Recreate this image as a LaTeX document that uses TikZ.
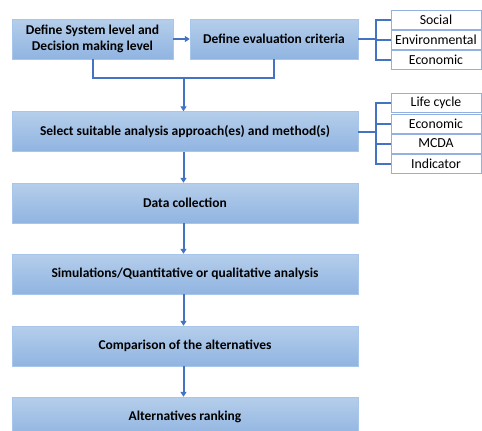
\documentclass[tikz,border=0pt]{standalone}
\usepackage{fontspec}
\setmainfont{Carlito}
\usetikzlibrary{arrows.meta}

\definecolor{linkblue}{HTML}{4472C4}
\definecolor{boxtop}{HTML}{B5CEEB}
\definecolor{boxbottom}{HTML}{90B4E1}
\definecolor{boxedge}{HTML}{A8C6EA}
\definecolor{itemedge}{HTML}{92B0E0}

\tikzset{
    stepbox/.style={rectangle, draw=boxedge, top color=boxtop, bottom color=boxbottom,
        minimum height=40, inner sep=2, align=center, font=\fontsize{13.5}{16}\selectfont\bfseries},
    widebox/.style={stepbox, minimum width=346},
    itembox/.style={rectangle, draw=itemedge, fill=white, minimum width=90, minimum height=19,
        inner sep=1, font=\fontsize{13.8}{14}\selectfont},
    link/.style={draw=linkblue, line width=2},
    flow/.style={link, -{Triangle[length=5,width=6]}},
}

\begin{document}
\begin{tikzpicture}[x=1pt, y=-1pt]
        \useasboundingbox (0, 0) rectangle (482, 431);

        % top row
        \node[stepbox, minimum width=161] (system) at (92.5, 39) {Define System level and\\Decision making level};
        \node[stepbox, minimum width=168] (criteria) at (274, 39) {Define evaluation criteria};

        % criteria list
        \node[itembox] (social) at (436, 19.5) {Social};
        \node[itembox] (environ) at (436, 39.5) {Environmental};
        \node[itembox] (econcrit) at (436, 59.5) {Economic};

        % main column
        \node[widebox] (select) at (185, 131.5) {Select suitable analysis approach(es) and method(s)};
        \node[widebox] (data) at (185, 203) {Data collection};
        \node[widebox] (simul) at (185, 274) {Simulations/Quantitative or qualitative analysis};
        \node[widebox] (compare) at (185, 346) {Comparison of the alternatives};
        \node[widebox] (ranking) at (185, 417) {Alternatives ranking};

        % method list
        \node[itembox] (lifecycle) at (436, 103) {Life cycle};
        \node[itembox] (econmeth) at (436, 123.5) {Economic};
        \node[itembox] (mcda) at (436, 143.5) {MCDA};
        \node[itembox] (indicator) at (436, 164) {Indicator};

        \coordinate (critjoin) at (376, 39);
        \coordinate (methjoin) at (376, 131.5);
        \coordinate (merge) at (183.5, 78);

        \draw[flow] (system) -- (criteria);

        \draw[link] (criteria.east) -- (critjoin);
        \draw[link] (social.west) -| (critjoin) |- (econcrit.west);
        \draw[link] (environ.west) -- (environ.west -| critjoin);

        \draw[link] (system.south) |- (merge) -| (criteria.south);
        \draw[flow] (merge) -- (merge |- select.north);

        \draw[link] (select.east) -- (methjoin);
        \draw[link] (lifecycle.west) -| (methjoin) |- (indicator.west);
        \draw[link] (econmeth.west) -- (econmeth.west -| methjoin);
        \draw[link] (mcda.west) -- (mcda.west -| methjoin);

        \draw[flow] (select.south -| merge) -- (data.north -| merge);
        \draw[flow] (data.south -| merge) -- (simul.north -| merge);
        \draw[flow] (simul.south -| merge) -- (compare.north -| merge);
        \draw[flow] (compare.south -| merge) -- (ranking.north -| merge);
\end{tikzpicture}
\end{document}
